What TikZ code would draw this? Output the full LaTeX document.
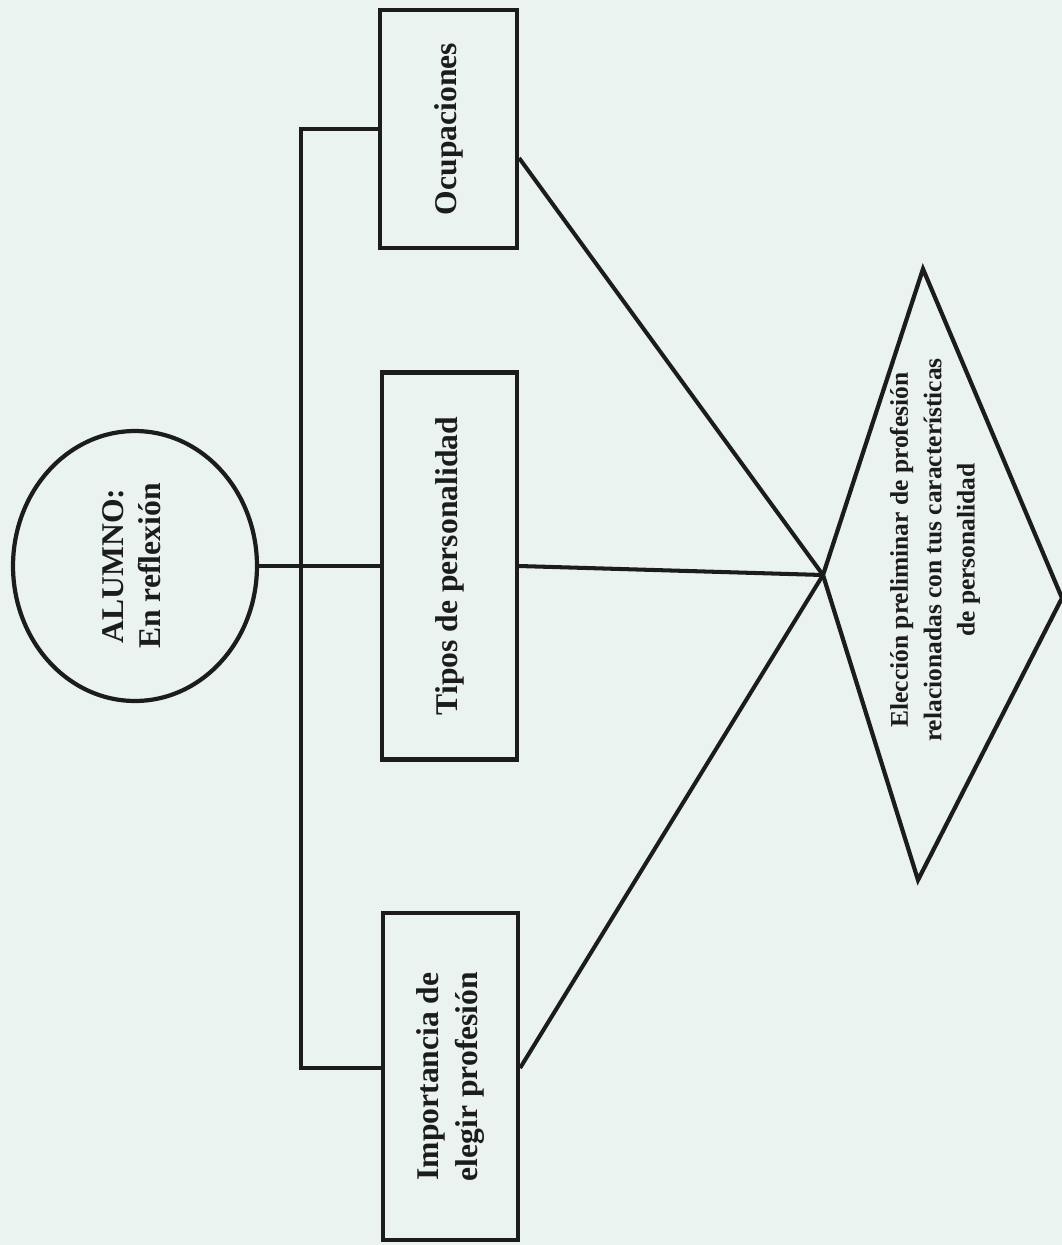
\documentclass[tikz,border=0pt]{standalone}
\usepackage{fontspec}
\setmainfont{Liberation Serif}
\usetikzlibrary{shapes.geometric}
\definecolor{paper}{RGB}{234,243,239}
\definecolor{ink}{RGB}{28,28,28}
\tikzset{
  box/.style={draw=ink, text=ink, line width=2.4pt, rectangle, minimum width=2.7cm, inner sep=0pt,
    font=\fontsize{18}{22}\selectfont\bfseries},
  link/.style={draw=ink, line width=2.3pt},
}
\begin{document}
\begin{tikzpicture}[x=0.02cm, y=-0.02cm]
  \fill[paper] (0,0) rectangle (1062,1245);
  \useasboundingbox (0,0) rectangle (1062,1245);

  \node[ellipse, draw=ink, text=ink, line width=2.4pt, minimum width=4.88cm, minimum height=5.4cm, inner sep=0pt,
    font=\fontsize{18}{21}\selectfont\bfseries] (alumno) at (135,566)
    {\rotatebox{90}{\begin{tabular}{@{}c@{}}ALUMNO:\\En reflexión\end{tabular}}};

  \node[box, minimum width=2.74cm, minimum height=4.76cm] (ocup) at (448.5,129) {\rotatebox{90}{Ocupaciones}};
  \node[box, minimum height=7.74cm] (tipos) at (449.5,566) {\rotatebox{90}{Tipos de personalidad}};
  \node[box, minimum height=6.54cm] (impor) at (450.5,1076.5)
    {\rotatebox{90}{\begin{tabular}{@{}c@{}}Importancia de\\elegir profesión\end{tabular}}};

  % rombo de la eleccion (algo torcido en el original)
  \coordinate (eltop) at (923,269);
  \coordinate (elright) at (1062,598);
  \coordinate (elbot) at (918,880);
  \coordinate (elleft) at (823,575);
  \draw[ink, line width=2.4pt, line join=miter] (eltop) -- (elright) -- (elbot) -- (elleft) -- cycle;
  \node[rotate=90, align=center, text=ink, font=\fontsize{14.5}{19}\selectfont\bfseries] (electxt) at (935,550)
    {Elección preliminar de profesión\\relacionadas con tus características\\de personalidad};

  \draw[link] (alumno) -- (tipos);
  \draw[link] (ocup.west) -- ++(-77,0) |- ([yshift=0.17cm]impor.west);
  \draw[link] ([yshift=-0.58cm]ocup.east) -- (elleft);
  \draw[link] (tipos.east) -- (elleft);
  \draw[link] ([yshift=0.17cm]impor.east) -- (elleft);
\end{tikzpicture}
\end{document}
